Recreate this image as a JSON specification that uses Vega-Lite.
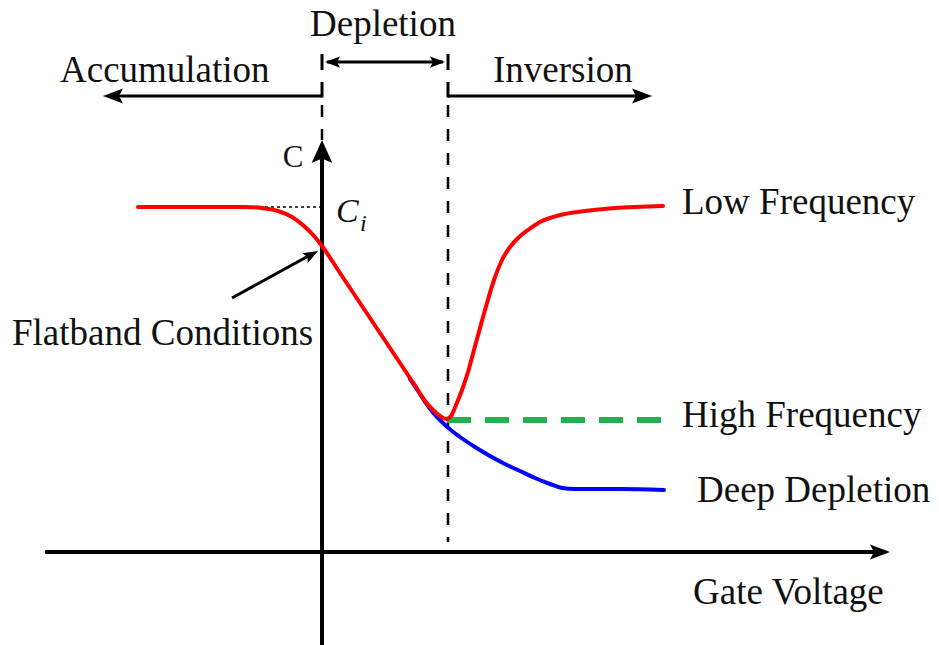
{
  "$schema": "https://vega.github.io/schema/vega-lite/v6.json",
  "description": "MOS capacitor C-V characteristics: low frequency, high frequency and deep depletion curves over the accumulation, depletion and inversion regions.",
  "width": 939,
  "height": 645,
  "autosize": {"type": "none"},
  "padding": 0,
  "background": "white",
  "config": {"view": {"stroke": null}, "text": {"font": "Liberation Serif"}},
  "datasets": {
    "lowFreq": [
      {"v": -1.84, "c": 3.45}, {"v": -0.77, "c": 3.45}, {"v": -0.60, "c": 3.44}, {"v": -0.44, "c": 3.41},
      {"v": -0.30, "c": 3.35}, {"v": -0.18, "c": 3.26}, {"v": -0.08, "c": 3.16}, {"v": 0.00, "c": 3.06},
      {"v": 0.18, "c": 2.79}, {"v": 0.38, "c": 2.49}, {"v": 0.58, "c": 2.19}, {"v": 0.78, "c": 1.89},
      {"v": 0.88, "c": 1.74}, {"v": 0.96, "c": 1.62}, {"v": 1.03, "c": 1.51}, {"v": 1.11, "c": 1.42},
      {"v": 1.18, "c": 1.36}, {"v": 1.24, "c": 1.33}, {"v": 1.29, "c": 1.36}, {"v": 1.34, "c": 1.47},
      {"v": 1.40, "c": 1.62}, {"v": 1.46, "c": 1.80}, {"v": 1.52, "c": 2.02}, {"v": 1.58, "c": 2.24},
      {"v": 1.65, "c": 2.49}, {"v": 1.72, "c": 2.72}, {"v": 1.80, "c": 2.92}, {"v": 1.88, "c": 3.05},
      {"v": 1.96, "c": 3.14}, {"v": 2.06, "c": 3.22}, {"v": 2.18, "c": 3.30}, {"v": 2.38, "c": 3.37},
      {"v": 2.63, "c": 3.41}, {"v": 2.93, "c": 3.44}, {"v": 3.41, "c": 3.46}
    ],
    "highFreq": [
      {"v": 1.25, "c": 1.32}, {"v": 3.53, "c": 1.32}
    ],
    "deepDepletion": [
      {"v": 0.88, "c": 1.73}, {"v": 0.98, "c": 1.58}, {"v": 1.06, "c": 1.46}, {"v": 1.14, "c": 1.36},
      {"v": 1.22, "c": 1.28}, {"v": 1.30, "c": 1.21}, {"v": 1.38, "c": 1.15}, {"v": 1.53, "c": 1.05},
      {"v": 1.68, "c": 0.96}, {"v": 1.83, "c": 0.88}, {"v": 1.98, "c": 0.81}, {"v": 2.13, "c": 0.74},
      {"v": 2.28, "c": 0.68}, {"v": 2.40, "c": 0.64}, {"v": 2.53, "c": 0.63}, {"v": 2.98, "c": 0.63},
      {"v": 3.42, "c": 0.62}
    ],
    "axes": [
      {"seg": "gate voltage", "v": -2.77, "c": 0}, {"seg": "gate voltage", "v": 5.58, "c": 0},
      {"seg": "capacitance", "v": 0, "c": -0.93}, {"seg": "capacitance", "v": 0, "c": 3.97}
    ],
    "shafts": [
      {"seg": "accumulation", "v": 0, "c": 4.56}, {"seg": "accumulation", "v": -2.10, "c": 4.56},
      {"seg": "inversion", "v": 1.26, "c": 4.56}, {"seg": "inversion", "v": 3.22, "c": 4.56},
      {"seg": "depletion", "v": 0.05, "c": 4.90}, {"seg": "depletion", "v": 1.21, "c": 4.90},
      {"seg": "flatband", "v": -0.90, "c": 2.54}, {"seg": "flatband", "v": -0.10, "c": 2.98},
      {"seg": "left tick top", "v": 0, "c": 4.98}, {"seg": "left tick top", "v": 0, "c": 4.82},
      {"seg": "right tick top", "v": 1.26, "c": 4.98}, {"seg": "right tick top", "v": 1.26, "c": 4.82},
      {"seg": "left tick low", "v": 0, "c": 4.70}, {"seg": "left tick low", "v": 0, "c": 4.545},
      {"seg": "right tick low", "v": 1.26, "c": 4.70}, {"seg": "right tick low", "v": 1.26, "c": 4.545}
    ],
    "bounds": [
      {"seg": "flatband edge", "v": 0, "c": 4.47}, {"seg": "flatband edge", "v": 0, "c": 4.12},
      {"seg": "inversion edge", "v": 1.26, "c": 4.47}, {"seg": "inversion edge", "v": 1.26, "c": 0.10}
    ],
    "ciLevel": [
      {"v": -0.57, "c": 3.45}, {"v": -0.02, "c": 3.45}
    ],
    "heads": [
      {"dir": "right", "v": 5.68, "c": 0},
      {"dir": "right", "v": 3.30, "c": 4.56},
      {"dir": "left", "v": -2.19, "c": 4.56},
      {"dir": "up", "v": 0, "c": 4.12},
      {"dir": "smallRight", "v": 1.23, "c": 4.90},
      {"dir": "smallLeft", "v": 0.03, "c": 4.90},
      {"dir": "flatband", "v": -0.04, "c": 3.01}
    ],
    "labels": [
      {"label": "Depletion", "v": -0.12, "c": 5.16},
      {"label": "Accumulation", "v": -2.62, "c": 4.70},
      {"label": "Inversion", "v": 1.71, "c": 4.70},
      {"label": "Flatband Conditions", "v": -3.10, "c": 2.07},
      {"label": "Low Frequency", "v": 3.60, "c": 3.38},
      {"label": "High Frequency", "v": 3.60, "c": 1.25},
      {"label": "Deep Depletion", "v": 3.75, "c": 0.50},
      {"label": "Gate Voltage", "v": 3.71, "c": -0.52}
    ]
  },
  "encoding": {
    "x": {"field": "v", "type": "quantitative", "scale": {"domain": [-3.22, 6.17], "nice": false, "zero": false}, "axis": null},
    "y": {"field": "c", "type": "quantitative", "scale": {"domain": [-0.93, 5.52], "nice": false, "zero": false}, "axis": null}
  },
  "layer": [
    {
      "data": {"name": "bounds"},
      "mark": {"type": "line", "color": "#000000", "strokeWidth": 2.5, "strokeDash": [12, 12], "strokeCap": "butt"},
      "encoding": {"detail": {"field": "seg"}, "order": {"field": "c", "sort": "descending"}}
    },
    {
      "data": {"name": "ciLevel"},
      "mark": {"type": "line", "color": "#000000", "strokeWidth": 1.5, "strokeDash": [3, 3], "strokeCap": "butt"},
      "encoding": {}
    },
    {
      "data": {"name": "axes"},
      "mark": {"type": "line", "color": "#000000", "strokeWidth": 4, "strokeCap": "butt"},
      "encoding": {"detail": {"field": "seg"}, "order": {"field": "c"}}
    },
    {
      "data": {"name": "shafts"},
      "mark": {"type": "line", "color": "#000000", "strokeWidth": 3, "strokeCap": "butt"},
      "encoding": {"detail": {"field": "seg"}, "order": {"field": "v"}}
    },
    {
      "data": {"name": "deepDepletion"},
      "mark": {"type": "line", "color": "#0000ff", "strokeWidth": 4, "interpolate": "monotone", "strokeCap": "round"},
      "encoding": {}
    },
    {
      "data": {"name": "highFreq"},
      "mark": {"type": "line", "color": "#22b14c", "strokeWidth": 6, "strokeDash": [24, 14], "strokeCap": "butt"},
      "encoding": {}
    },
    {
      "data": {"name": "lowFreq"},
      "mark": {"type": "line", "color": "#ff0000", "strokeWidth": 4, "interpolate": "monotone", "strokeCap": "round"},
      "encoding": {}
    },
    {
      "data": {"name": "heads"},
      "transform": [{"filter": "datum.dir === 'right'"}],
      "mark": {"type": "point", "shape": "M0,0L-2,-0.75L-1.6,0L-2,0.75Z", "filled": true, "color": "#000000", "opacity": 1, "size": 400, "angle": 0}
    },
    {
      "data": {"name": "heads"},
      "transform": [{"filter": "datum.dir === 'left'"}],
      "mark": {"type": "point", "shape": "M0,0L-2,-0.75L-1.6,0L-2,0.75Z", "filled": true, "color": "#000000", "opacity": 1, "size": 400, "angle": 180}
    },
    {
      "data": {"name": "heads"},
      "transform": [{"filter": "datum.dir === 'up'"}],
      "mark": {"type": "point", "shape": "M0,0L-2,-0.9L-1.6,0L-2,0.9Z", "filled": true, "color": "#000000", "opacity": 1, "size": 530, "angle": 270}
    },
    {
      "data": {"name": "heads"},
      "transform": [{"filter": "datum.dir === 'smallRight'"}],
      "mark": {"type": "point", "shape": "M0,0L-2,-0.75L-1.6,0L-2,0.75Z", "filled": true, "color": "#000000", "opacity": 1, "size": 225, "angle": 0}
    },
    {
      "data": {"name": "heads"},
      "transform": [{"filter": "datum.dir === 'smallLeft'"}],
      "mark": {"type": "point", "shape": "M0,0L-2,-0.75L-1.6,0L-2,0.75Z", "filled": true, "color": "#000000", "opacity": 1, "size": 225, "angle": 180}
    },
    {
      "data": {"name": "heads"},
      "transform": [{"filter": "datum.dir === 'flatband'"}],
      "mark": {"type": "point", "shape": "M0,0L-2,-0.75L-1.6,0L-2,0.75Z", "filled": true, "color": "#000000", "opacity": 1, "size": 225, "angle": 331}
    },
    {
      "data": {"name": "labels"},
      "mark": {"type": "text", "font": "Liberation Serif", "fontSize": 37, "align": "left", "baseline": "alphabetic", "color": "#111111"},
      "encoding": {"text": {"field": "label"}}
    },
    {
      "data": {"values": [{"label": "C", "v": -0.29, "c": 3.85}]},
      "mark": {"type": "text", "font": "Liberation Serif", "fontSize": 31, "align": "center", "baseline": "alphabetic", "color": "#111111"},
      "encoding": {"text": {"field": "label"}}
    },
    {
      "data": {"values": [{"label": "C", "v": 0.14, "c": 3.30}]},
      "mark": {"type": "text", "font": "Liberation Serif", "fontSize": 34, "fontStyle": "italic", "align": "left", "baseline": "alphabetic", "color": "#111111"},
      "encoding": {"text": {"field": "label"}}
    },
    {
      "data": {"values": [{"label": "i", "v": 0.38, "c": 3.21}]},
      "mark": {"type": "text", "font": "Liberation Serif", "fontSize": 24, "fontStyle": "italic", "align": "left", "baseline": "alphabetic", "color": "#111111"},
      "encoding": {"text": {"field": "label"}}
    }
  ]
}
